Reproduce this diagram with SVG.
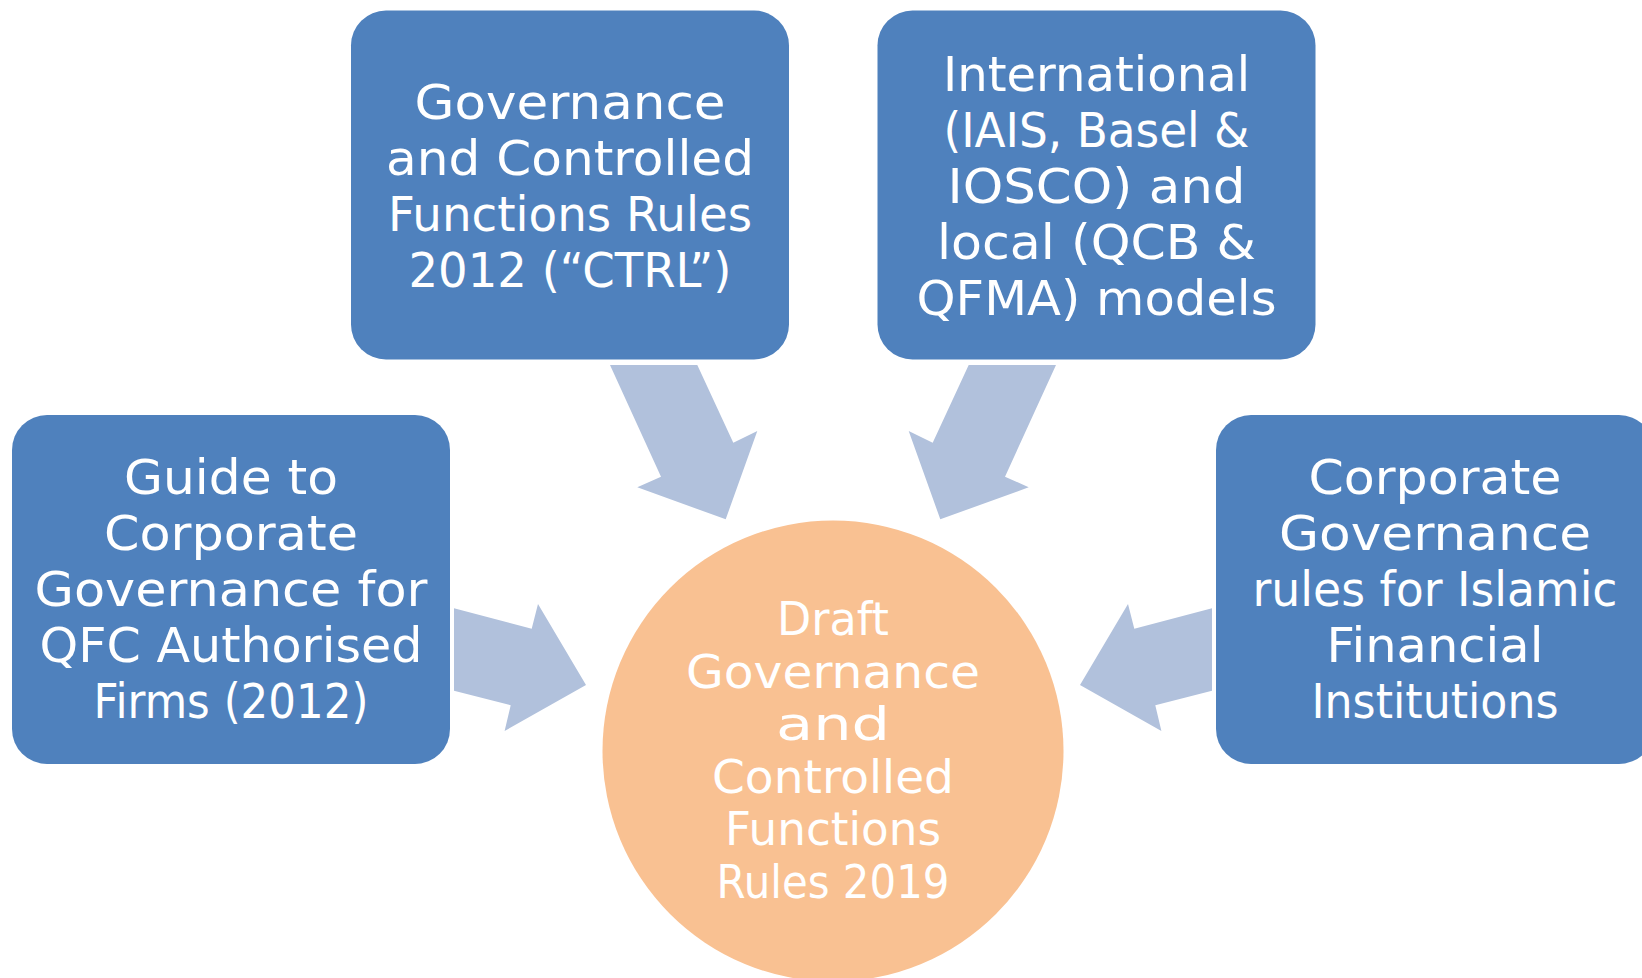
<svg xmlns="http://www.w3.org/2000/svg" width="1642" height="978" viewBox="0 0 1642 978">
  <style>
    .box { fill: #4F81BD; }
    .arrow { fill: #B1C1DC; }
    .hub { fill: #F9C192; }
    text { font-family: "DejaVu Sans", "Liberation Sans", sans-serif; font-size: 48px; fill: #FFFFFF; text-anchor: middle; }
    .hub-label text { font-size: 45.5px; }
  </style>
  <rect width="1642" height="978" fill="#FFFFFF"/>

  <!-- block arrows feeding the central circle -->
  <g id="connectors">
    <polygon class="arrow" points="610,365 697.3,365 733.3,442.7 757.3,431 725.7,519.3 637.3,487.3 661,476.7"/>
    <polygon class="arrow" points="1056,365 968.7,365 932.7,442.7 908.7,431 940.3,519.3 1028.7,487.3 1005,476.7"/>
    <polygon class="arrow" points="454,608.3 531.7,628.7 538,604 586,685 504.6,731 510.7,705.3 454,690.7"/>
    <polygon class="arrow" points="1212,608.3 1134.3,628.7 1128,604 1080,685 1161.4,731 1155.3,705.3 1212,690.7"/>
  </g>

  <g id="node-ctrl-2012">
    <rect class="box" x="351" y="10.5" width="438" height="349" rx="35" ry="35"/>
    <text x="570" y="118.5" textLength="311" lengthAdjust="spacingAndGlyphs">Governance</text>
    <text x="570" y="174.5" textLength="368" lengthAdjust="spacingAndGlyphs">and Controlled</text>
    <text x="570" y="230.5" textLength="364" lengthAdjust="spacingAndGlyphs">Functions Rules</text>
    <text x="570" y="286.5" textLength="323" lengthAdjust="spacingAndGlyphs">2012 (“CTRL”)</text>
  </g>

  <g id="node-models">
    <rect class="box" x="877.5" y="10.5" width="438" height="349" rx="35" ry="35"/>
    <text x="1096.5" y="90.5" textLength="307" lengthAdjust="spacingAndGlyphs">International</text>
    <text x="1096.5" y="146.5" textLength="306" lengthAdjust="spacingAndGlyphs">(IAIS, Basel &amp;</text>
    <text x="1096.5" y="202.5" textLength="298" lengthAdjust="spacingAndGlyphs">IOSCO) and</text>
    <text x="1096.5" y="258.5" textLength="319" lengthAdjust="spacingAndGlyphs">local (QCB &amp;</text>
    <text x="1096.5" y="314.5" textLength="360" lengthAdjust="spacingAndGlyphs">QFMA) models</text>
  </g>

  <g id="node-guide">
    <rect class="box" x="12" y="415" width="438" height="349" rx="35" ry="35"/>
    <text x="231" y="494" textLength="214" lengthAdjust="spacingAndGlyphs">Guide to</text>
    <text x="231" y="550" textLength="254" lengthAdjust="spacingAndGlyphs">Corporate</text>
    <text x="231" y="606" textLength="393" lengthAdjust="spacingAndGlyphs">Governance for</text>
    <text x="231" y="662" textLength="383" lengthAdjust="spacingAndGlyphs">QFC Authorised</text>
    <text x="231" y="718" textLength="275" lengthAdjust="spacingAndGlyphs">Firms (2012)</text>
  </g>

  <g id="node-islamic">
    <rect class="box" x="1216" y="415" width="438" height="349" rx="35" ry="35"/>
    <text x="1435" y="494" textLength="253" lengthAdjust="spacingAndGlyphs">Corporate</text>
    <text x="1435" y="550" textLength="312" lengthAdjust="spacingAndGlyphs">Governance</text>
    <text x="1435" y="606" textLength="365" lengthAdjust="spacingAndGlyphs">rules for Islamic</text>
    <text x="1435" y="662" textLength="217" lengthAdjust="spacingAndGlyphs">Financial</text>
    <text x="1435" y="718" textLength="247" lengthAdjust="spacingAndGlyphs">Institutions</text>
  </g>

  <g id="node-draft-2019">
    <circle class="hub" cx="833" cy="751" r="230.5"/>
    <g class="hub-label">
      <text x="833" y="635" textLength="112" lengthAdjust="spacingAndGlyphs">Draft</text>
      <text x="833" y="687.5" textLength="294" lengthAdjust="spacingAndGlyphs">Governance</text>
      <text x="833" y="740" textLength="114" lengthAdjust="spacingAndGlyphs">and</text>
      <text x="833" y="792.5" textLength="242" lengthAdjust="spacingAndGlyphs">Controlled</text>
      <text x="833" y="845" textLength="216" lengthAdjust="spacingAndGlyphs">Functions</text>
      <text x="833" y="897.5" textLength="233" lengthAdjust="spacingAndGlyphs">Rules 2019</text>
    </g>
  </g>
</svg>
